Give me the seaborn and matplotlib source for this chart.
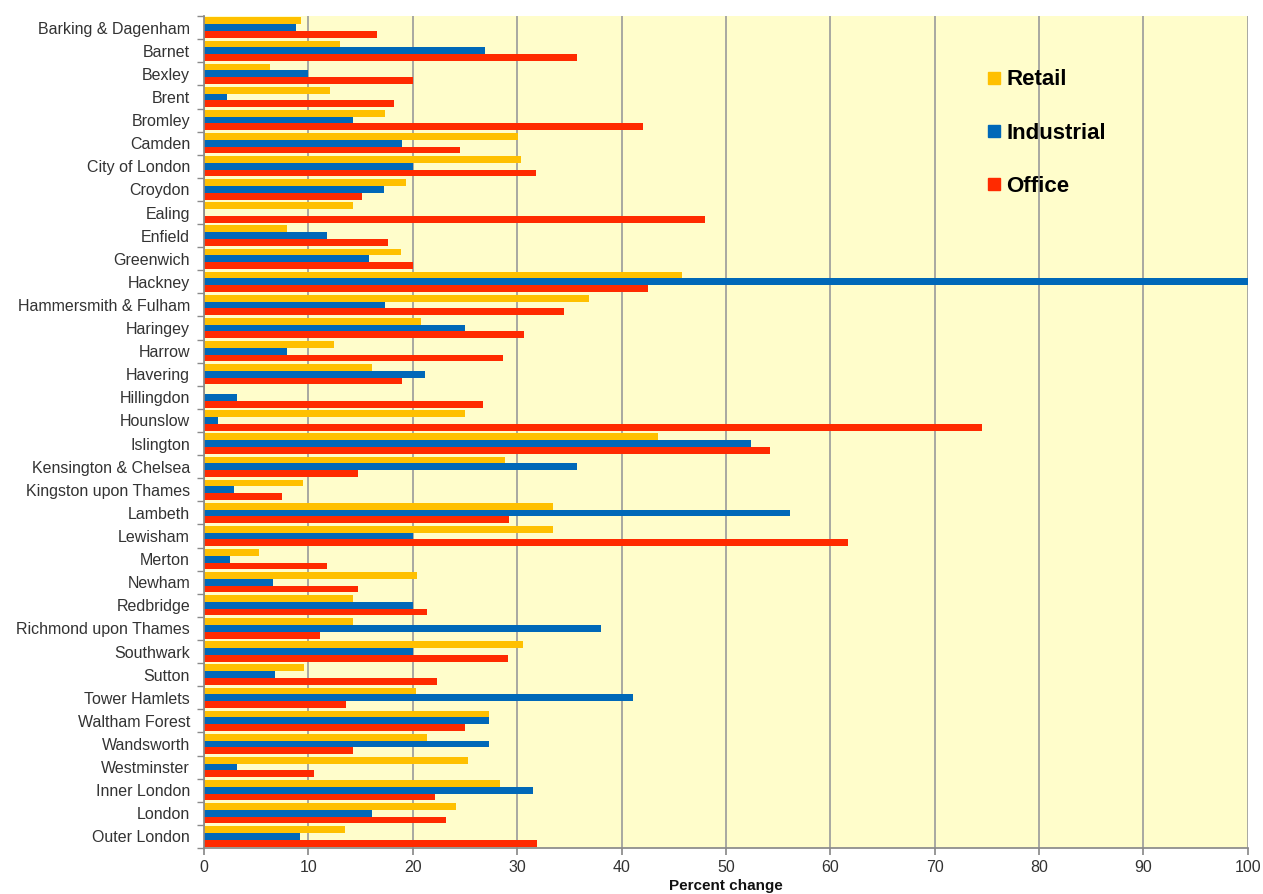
import matplotlib
matplotlib.use("Agg")
import matplotlib.pyplot as plt
from matplotlib.lines import Line2D
import numpy as np
import pandas as pd
import seaborn as sns

boroughs = [
    "Barking & Dagenham", "Barnet", "Bexley", "Brent", "Bromley", "Camden",
    "City of London", "Croydon", "Ealing", "Enfield", "Greenwich", "Hackney",
    "Hammersmith & Fulham", "Haringey", "Harrow", "Havering", "Hillingdon",
    "Hounslow", "Islington", "Kensington & Chelsea", "Kingston upon Thames",
    "Lambeth", "Lewisham", "Merton", "Newham", "Redbridge",
    "Richmond upon Thames", "Southwark", "Sutton", "Tower Hamlets",
    "Waltham Forest", "Wandsworth", "Westminster", "Inner London", "London",
    "Outer London",
]

retail = [9.3, 13.0, 6.3, 12.1, 17.3, 30.1, 30.4, 19.4, 14.3, 8.0, 18.9, 45.8,
          36.9, 20.8, 12.5, 16.1, 0.0, 25.0, 43.5, 28.8, 9.5, 33.4, 33.4, 5.3,
          20.4, 14.3, 14.3, 30.6, 9.6, 20.3, 27.3, 21.4, 25.3, 28.4, 24.1, 13.5]

industrial = [8.8, 26.9, 10.0, 2.2, 14.3, 19.0, 20.0, 17.2, 0.0, 11.8, 15.8, 100.0,
              17.3, 25.0, 8.0, 21.2, 3.2, 1.3, 52.4, 35.7, 2.9, 56.1, 20.0, 2.5,
              6.6, 20.0, 38.0, 20.0, 6.8, 41.1, 27.3, 27.3, 3.2, 31.5, 16.1, 9.2]

office = [16.6, 35.7, 20.0, 18.2, 42.1, 24.5, 31.8, 15.1, 48.0, 17.6, 20.0, 42.5,
          34.5, 30.7, 28.6, 19.0, 26.7, 74.5, 54.2, 14.8, 7.5, 29.2, 61.7, 11.8,
          14.8, 21.4, 11.1, 29.1, 22.3, 13.6, 25.0, 14.3, 10.5, 22.1, 23.2, 31.9]

series = ["Retail", "Industrial", "Office"]
colors = ["#FFC000", "#0068B8", "#FF2A00"]

df = pd.DataFrame({
    "Borough": boroughs * 3,
    "Sector": np.repeat(series, len(boroughs)),
    "Change": retail + industrial + office,
})

sns.set_theme(style="white")
plt.rcParams["font.family"] = ["Liberation Sans", "DejaVu Sans"]

fig = plt.figure(figsize=(12.63, 8.94), dpi=100)
ax = fig.add_axes([0.1615, 0.0515, 0.8265, 0.9305])
ax.set_facecolor("#FFFDCB")

sns.barplot(data=df, y="Borough", x="Change", hue="Sector", hue_order=series,
            order=boroughs, palette=colors, orient="h", width=0.88, gap=0,
            saturation=1, ax=ax, legend=False, linewidth=0)

ax.set_xlim(0, 100)
ax.set_ylim(len(boroughs) - 0.5, -0.5)
ax.set_xticks(np.arange(0, 101, 10))
ax.xaxis.grid(True, color="#9A9A9A", linewidth=1.2)
ax.yaxis.grid(False)
ax.set_axisbelow(True)

ax.set_ylabel("")
ax.set_xlabel("Percent change", fontsize=11, fontweight="bold", labelpad=3, color="#111111")

# Ticks on the category axis sit between the groups
ax.set_yticks(np.arange(len(boroughs)))
ax.set_yticks(np.arange(-0.5, len(boroughs), 1), minor=True)
ax.tick_params(axis="y", which="major", length=0, labelsize=11.5, pad=10, labelcolor="#333333")
ax.tick_params(axis="y", which="minor", length=5, color="#8A8A8A", width=1, left=True)
ax.tick_params(axis="x", which="major", length=5, color="#8A8A8A", labelsize=11.5,
               labelcolor="#333333", bottom=True)

for side in ["top", "right"]:
    ax.spines[side].set_visible(False)
ax.spines["left"].set_color("#8A8A8A")
ax.spines["bottom"].set_color("#8A8A8A")

handles = [Line2D([0], [0], marker="s", linestyle="none", markersize=8,
                  markerfacecolor=c, markeredgecolor=c) for c in colors]
leg = ax.legend(handles, series, loc="upper left", bbox_to_anchor=(0.728, 0.96),
                frameon=False, prop={"size": 16, "weight": "bold"},
                labelspacing=1.45, handletextpad=0.1, handlelength=0.9)
for t in leg.get_texts():
    t.set_color("#000000")

fig.savefig("out.png", dpi=100)
